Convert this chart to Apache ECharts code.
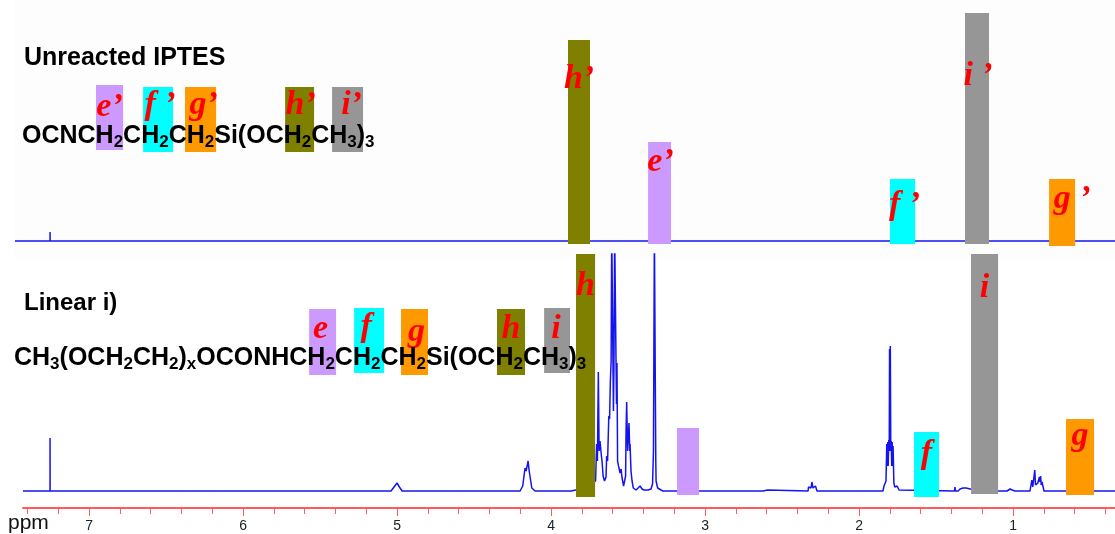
<!DOCTYPE html>
<html><head><meta charset="utf-8">
<style>html,body{margin:0;padding:0;background:#fff}#c{width:1115px;height:534px}</style>
<script src="https://cdn.jsdelivr.net/npm/echarts@6/dist/echarts.min.js"></script>
</head><body><div id="c"></div>
<script>
// Spectra: [ppm, intensity]
const topSpectrum = [[7.481,0],[7.2535,0],[7.2533,9],[7.2530,0],[1.387,0],[1.386,1],[1.385,0],[1.069,0],[1.068,1],[1.067,0],[0.338,0]];
const lowerSpectrum = [[7.429,0],[7.2535,0],[7.2533,53],[7.2530,0],[5.039,0],[5.03,1],[5.015,5],[5.0,8],[4.985,4],[4.967,0],
[4.201,0],[4.184,5],[4.169,23],[4.162,20],[4.156,22],[4.149,30],[4.143,21],[4.136,22],[4.125,3],[4.104,0],
[3.955,0],[3.952,1],[3.946,1],[3.94,0],[3.934,1],[3.928,1],[3.925,0],[3.87,0],[3.86,1],[3.84,1],
[3.711,10],[3.704,47],[3.699,30],[3.693,119],[3.688,40],[3.682,50],[3.678,52],[3.673,35],[3.669,30],[3.662,15],[3.653,10],[3.643,14],[3.639,35],[3.633,30],[3.625,75],[3.620,72],[3.615,109],[3.610,130],[3.606,260],[3.599,260],[3.595,80],[3.592,120],[3.587,260],[3.580,260],[3.578,128],[3.575,87],[3.572,128],[3.568,30],[3.562,25],[3.557,27],[3.552,18],[3.545,22],[3.539,13],[3.529,5],[3.523,3],[3.516,15],[3.513,60],[3.509,89],[3.503,40],[3.500,50],[3.494,68],[3.489,40],[3.487,47],[3.481,20],[3.474,10],[3.466,3],[3.448,1],[3.435,3],[3.422,5],[3.409,2],[3.396,1],[3.370,1],[3.351,2],[3.341,7],[3.335,40],[3.329,260],[3.325,260],[3.320,30],[3.318,10],[3.308,3],[3.286,1],[3.279,2],[3.273,0],
[2.623,0],[2.62,1],[2.595,1],[2.591,0],[2.331,0],[2.328,4],[2.318,4],[2.312,3],[2.306,9],[2.299,3],[2.29,3],[2.283,5],[2.273,0],
[1.845,0],[1.838,5],[1.831,3],[1.825,10],[1.820,47],[1.817,25],[1.814,49],[1.811,25],[1.807,51],[1.804,40],[1.802,142],[1.799,60],[1.797,145],[1.794,40],[1.791,50],[1.788,25],[1.785,49],[1.782,25],[1.779,45],[1.774,8],[1.768,4],[1.760,2],[1.753,5],[1.740,1],[1.734,0],
[1.380,0],[1.377,4],[1.374,0],[1.357,0],[1.344,2],[1.325,3],[1.305,3],[1.279,2],[1.253,2],[1.1,0],
[1.039,0],[1.032,1],[1.019,2],[1.013,3],[1.006,1],[0.994,2],[0.987,0],
[0.890,0],[0.883,2],[0.878,11],[0.872,4],[0.864,6],[0.859,21],[0.854,6],[0.847,5],[0.839,8],[0.834,6],[0.829,14],[0.825,9],[0.821,15],[0.817,6],[0.812,9],[0.807,7],[0.799,0],[0.338,0]];

// Assignment bands: ppm start, ppm end, low, high, kind, label
const topBandStart = [3.890,3.370,1.799,1.312,0.766, 6.955,6.649,6.377,5.727,5.422];
const topBandEnd   = [3.747,3.221,1.636,1.156,0.597, 6.779,6.455,6.175,5.539,5.221];
const topBandLow   = [-3,-3,-3,-3,-5, 91,89,89,89,89];
const topBandHigh  = [201,99,62,228,62, 156,154,154,154,154];
const topBandKind  = ['h','e','f','i','g','e','f','g','h','i'];
const topBandLabel = ['h’','e’','f ’','i ’','g ’','e’','f ’','g’','h’','i’'];

const lowerBandStart = [3.838,3.182,1.643,1.273,0.656, 5.571,5.279,4.974,4.351,4.045];
const lowerBandEnd   = [3.714,3.039,1.481,1.097,0.474, 5.396,5.084,4.799,4.169,3.877];
const lowerBandLow   = [-6,-4,-6,-3,-4, 116,118,116,116,118];
const lowerBandHigh  = [237,63,59,237,72, 182,183,182,182,183];
const lowerBandKind  = ['h','e','f','i','g','e','f','g','h','i'];
const lowerBandLabel = ['h','','f','i','g','e','f','g','h','i'];

const majorTicks = [1,2,3,4,5,6,7];
const minorTicks = [0.4,0.6,0.8,1.2,1.4,1.6,1.8,2.2,2.4,2.6,2.8,3.2,3.4,3.6,3.8,4.2,4.4,4.6,4.8,5.2,5.4,5.6,5.8,6.2,6.4,6.6,6.8,7.2,7.4];

const panelTitles = ['Unreacted IPTES','Linear i)'];
const axisName = 'ppm';

// Styling, kept apart from the data
const kindColor = {e:'#cc99ff',f:'#00ffff',g:'#ff9900',h:'#808000',i:'#969696'};
const topLabelOffset = [[0,39],[1,20],[2,26],[1,63],[10,20],[0,22],[2,18],[3,18],[1,18],[4,18]];
const lowerLabelOffset = [[0,32],[0,0],[0,22],[0,34],[0,17],[-2,20],[-3,19],[2,23],[0,20],[-1,21]];
const BLUE='#1414f0', RED='#ff5a5a';

function bandSeries(starts,ends,lows,highs,kinds,labels,offsets,axis){
  return {
    type:'custom',xAxisIndex:axis,yAxisIndex:axis===0?0:1,z:5,clip:false,silent:true,
    data:starts.map((s,i)=>[s,ends[i],lows[i],highs[i],i]),
    renderItem(params,api){
      const a=api.coord([api.value(0),api.value(3)]),b=api.coord([api.value(1),api.value(2)]);
      const i=api.value(4),off=offsets[i];
      const children=[{type:'rect',shape:{x:a[0],y:a[1],width:b[0]-a[0],height:b[1]-a[1]},style:{fill:kindColor[kinds[i]]}}];
      if(labels[i]) children.push({type:'text',style:{x:(a[0]+b[0])/2+off[0],y:a[1]+off[1],text:labels[i],fill:'#ff0000',
        font:'italic bold 34px "Liberation Serif"',textAlign:'center',textVerticalAlign:'middle'}});
      return {type:'group',children};
    }
  };
}
const richF={
  b:{fontFamily:'Liberation Sans',fontWeight:'bold',fontSize:25,color:'#000',lineHeight:30,verticalAlign:'middle'},
  s:{fontFamily:'Liberation Sans',fontWeight:'bold',fontSize:17,color:'#000',lineHeight:18,verticalAlign:'bottom',padding:[12,0,0,0]}
};
function formula(parts,x,y){
  return {type:'text',left:x,top:y,z:100,style:{text:parts,rich:richF,font:'bold 25px "Liberation Sans"',fill:'#000'}};
}
const f1='{b|OCNCH}{s|2}{b|CH}{s|2}{b|CH}{s|2}{b|Si(OCH}{s|2}{b|CH}{s|3}{b|)}{s|3}';
const f2='{b|CH}{s|3}{b|(OCH}{s|2}{b|CH}{s|2}{b|)}{s|x}{b|OCONHCH}{s|2}{b|CH}{s|2}{b|CH}{s|2}{b|Si(OCH}{s|2}{b|CH}{s|3}{b|)}{s|3}';

const chart=echarts.init(document.getElementById('c'),null,{renderer:'canvas'});
chart.setOption({
  animation:false,backgroundColor:'#ffffff',
  grid:[
    {left:15,top:0,width:1100,height:260,show:true,backgroundColor:'#fdfdfd',borderWidth:0},
    {left:23,top:254,width:1092,height:254,show:false}
  ],
  xAxis:[
    {gridIndex:0,type:'value',inverse:true,min:0.338,max:7.481,show:false},
    {gridIndex:1,type:'value',inverse:true,min:0.338,max:7.429,position:'bottom',
      axisLine:{show:true,onZero:false,lineStyle:{color:RED,width:2}},splitLine:{show:false},
      axisTick:{show:true,customValues:majorTicks,length:8,lineStyle:{color:RED,width:1}},
      axisLabel:{show:true,customValues:majorTicks,color:'#222',fontFamily:'Liberation Sans',fontSize:14,margin:11}},
    {gridIndex:1,type:'value',inverse:true,min:0.338,max:7.429,position:'bottom',
      axisLine:{show:false,onZero:false},splitLine:{show:false},
      axisTick:{show:true,customValues:minorTicks,length:6,lineStyle:{color:RED,width:1}},
      axisLabel:{show:false}}
  ],
  yAxis:[
    {gridIndex:0,type:'value',min:-19,max:241,show:false},
    {gridIndex:1,type:'value',min:-17,max:237,show:false}
  ],
  series:[
    {type:'line',xAxisIndex:0,yAxisIndex:0,data:topSpectrum,showSymbol:false,z:2,silent:true,lineStyle:{color:BLUE,width:1.5}},
    {type:'line',xAxisIndex:1,yAxisIndex:1,data:lowerSpectrum,showSymbol:false,z:2,silent:true,clip:true,lineStyle:{color:BLUE,width:1.5}},
    bandSeries(topBandStart,topBandEnd,topBandLow,topBandHigh,topBandKind,topBandLabel,topLabelOffset,0),
    bandSeries(lowerBandStart,lowerBandEnd,lowerBandLow,lowerBandHigh,lowerBandKind,lowerBandLabel,lowerLabelOffset,1)
  ],
  graphic:[
    {type:'text',left:24,top:46,z:100,style:{text:panelTitles[0],font:'bold 25px "Liberation Sans"',fill:'#000'}},
    {type:'text',left:24,top:291,z:100,style:{text:panelTitles[1],font:'bold 24px "Liberation Sans"',fill:'#000'}},
    formula(f1,22,122),
    formula(f2,14,344),
    {type:'text',left:8,top:513,z:100,style:{text:axisName,font:'21px "Liberation Sans"',fill:'#111'}}
  ]
});
</script></body></html>
